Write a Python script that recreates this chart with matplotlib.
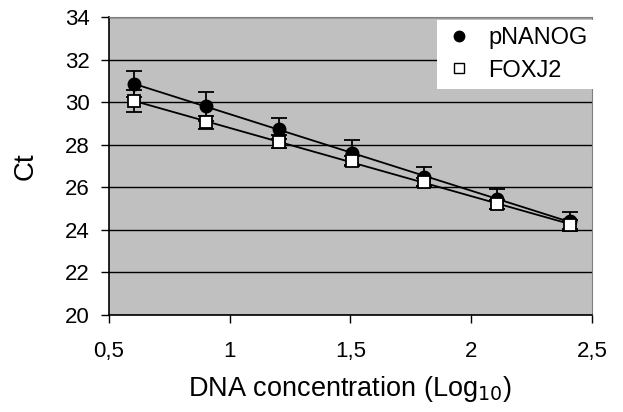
import numpy as np
import matplotlib
matplotlib.use("Agg")
import matplotlib.pyplot as plt
from matplotlib.lines import Line2D

plt.rcParams['font.family'] = ['Liberation Sans', 'DejaVu Sans']

# ===== data =====
x = [0.602, 0.903, 1.204, 1.505, 1.806, 2.107, 2.408]
nanog = [30.85, 29.8, 28.75, 27.6, 26.5, 25.45, 24.4]
nanog_err = [0.6, 0.7, 0.5, 0.6, 0.45, 0.45, 0.45]
foxj2 = [30.05, 29.05, 28.15, 27.25, 26.25, 25.2, 24.25]
foxj2_err = [0.5, 0.3, 0.3, 0.2, 0.2, 0.2, 0.2]
xticks = [0.5, 1, 1.5, 2, 2.5]
xtick_labels = ["0,5", "1", "1,5", "2", "2,5"]
yticks = [20, 22, 24, 26, 28, 30, 32, 34]

fig = plt.figure(figsize=(6.23, 4.12), dpi=100)
ax = fig.add_axes([0.175, 0.2354, 0.775, 0.7233])
ax.set_facecolor("#c0c0c0")

# ===== trend lines =====
xs = np.array([x[0], x[-1]])
for y in (nanog, foxj2):
    k, b = np.polyfit(x, y, 1)
    ax.plot(xs, k * xs + b, color="black", lw=1.3, zorder=3)

# ===== points =====
ax.errorbar(x, nanog, yerr=nanog_err, fmt="o", color="black", ms=9,
            ecolor="black", elinewidth=1.3, capsize=6, capthick=1.3,
            zorder=4)
ax.errorbar(x, foxj2, yerr=foxj2_err, fmt="s", mfc="white", mec="black",
            mew=1.3, ms=9, ecolor="black", elinewidth=1.3, capsize=6,
            capthick=1.3, zorder=5)

ax.set_xlim(0.5, 2.5)
ax.set_ylim(20, 34)
ax.set_xticks(xticks)
ax.set_xticklabels(xtick_labels)
ax.set_yticks(yticks)
ax.yaxis.grid(True, color="black", lw=1)
ax.set_axisbelow(True)
ax.tick_params(direction="out", length=6, width=1, labelsize=16)
ax.tick_params(axis="x", pad=13)
ax.tick_params(axis="y", pad=8)

for s in ("left", "bottom"):
    ax.spines[s].set_color("black")
    ax.spines[s].set_linewidth(1.2)
for s in ("right", "top"):
    ax.spines[s].set_color("#808080")

ax.set_xlabel("DNA concentration (Log$_{10}$)", fontsize=19.5, labelpad=8)
ax.set_ylabel("Ct", fontsize=20, labelpad=19)

handles = [
    Line2D([], [], ls="none", marker="o", color="black", ms=7.5),
    Line2D([], [], ls="none", marker="s", mfc="white", mec="black", mew=1, ms=6.5),
]
ax.legend(handles, ["pNANOG", "FOXJ2"], loc="upper left",
          bbox_to_anchor=(0.679, 0.99), frameon=True, fancybox=False,
          edgecolor="none", facecolor="white", framealpha=1,
          fontsize=17, borderaxespad=0, handletextpad=0.6,
          handlelength=1.27, labelspacing=0.45, borderpad=0.3)

fig.savefig("out.png", dpi=100)
